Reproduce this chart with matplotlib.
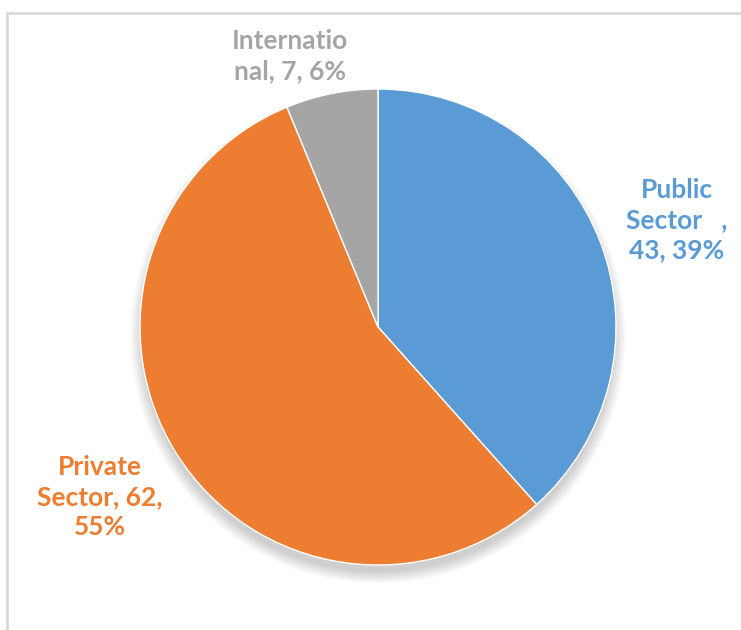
import matplotlib.pyplot as plt
from matplotlib.patches import Circle
import numpy as np

# Data
sectors = ["Public Sector", "Private Sector", "International"]
counts = [43, 62, 7]
shares = ["39%", "55%", "6%"]
colors = ["#5B9BD5", "#ED7D31", "#A5A5A5"]

# Label text as it wraps in the chart box
label_texts = [
    f"Public\nSector   ,\n{counts[0]}, {shares[0]}",
    f"Private\nSector, {counts[1]},\n{shares[1]}",
    f"Internatio\nnal, {counts[2]}, {shares[2]}",
]
label_pos = [(677, 220), (100, 497), (290, 56)]

W, H = 741, 630
fig = plt.figure(figsize=(W / 100, H / 100), dpi=100)
ax = fig.add_axes([0, 0, 1, 1])
ax.set_xlim(0, W)
ax.set_ylim(0, H)
ax.set_aspect("equal")
ax.axis("off")

cx, cy, r = 378, H - 327, 238

# soft drop shadow under the pie
for i in range(16):
    grow = 16 - i
    ax.add_patch(Circle((cx, cy - 9), r + grow * 0.8 - 3, color="black",
                        alpha=0.012, lw=0, zorder=1))

ax.pie(counts, colors=colors, startangle=90, counterclock=False,
       center=(cx, cy), radius=r, frame=True,
       wedgeprops=dict(edgecolor="white", linewidth=1, zorder=2))
ax.set_xlim(0, W)
ax.set_ylim(0, H)
ax.axis("off")

for text, (x, y), c in zip(label_texts, label_pos, colors):
    ax.text(x, H - y, text, ha="center", va="center", color=c,
            fontsize=19, fontweight="bold", family="Lato",
            linespacing=1.3, zorder=5)

# chart area border (left and top edges visible)
ax.plot([7, 7, W], [0, H - 13, H - 13], color="#D9D9D9", lw=2,
        solid_capstyle="butt", zorder=0)

fig.savefig("out.png", dpi=100)
plt.close(fig)
